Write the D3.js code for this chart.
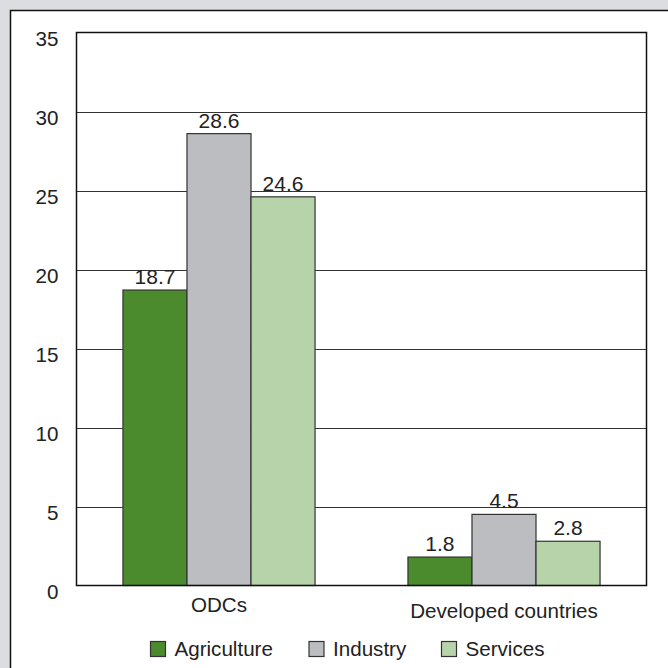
<!DOCTYPE html>
<html>
<head>
<meta charset="utf-8">
<script src="https://cdn.jsdelivr.net/npm/d3@7"></script>
<style>
  html, body { margin: 0; padding: 0; background: #dcdde0; }
  svg { display: block; }
  text { font-family: "Liberation Sans", Arial, Helvetica, sans-serif; fill: #222; }
</style>
</head>
<body>
<svg id="chart" width="668" height="668"></svg>
<script>
// Employment growth by sector, per country group
const categories = ["ODCs", "Developed countries"];
const seriesNames = ["Agriculture", "Industry", "Services"];
const agriculture = [18.7, 1.8];
const industry = [28.6, 4.5];
const services = [24.6, 2.8];
const yTicks = [0, 5, 10, 15, 20, 25, 30, 35];

const seriesValues = [agriculture, industry, services];
const colors = ["#4b8a2d", "#bcbdc0", "#b7d3aa"];
const fontSize = 20.6;

const svg = d3.select("#chart");

// white panel with a dark frame
svg.append("rect")
  .attr("x", 10.5).attr("y", 10.5)
  .attr("width", 700).attr("height", 700)
  .attr("fill", "#fff")
  .attr("stroke", "#111").attr("stroke-width", 1.5);

const plotLeft = 76.5, plotRight = 646.5, plotTop = 32.5, plotBottom = 585.5;

const y = d3.scaleLinear().domain([0, 35]).range([plotBottom, plotTop]);
const x0 = d3.scaleBand().domain(categories).range([plotLeft, plotRight])
  .paddingInner(0.326).paddingOuter(0.163);
const x1 = d3.scaleBand().domain(seriesNames).range([0, x0.bandwidth()]);

// gridlines
svg.append("g").selectAll("line")
  .data(yTicks.filter(t => t > 0 && t < 35))
  .join("line")
  .attr("x1", plotLeft).attr("x2", plotRight)
  .attr("y1", d => Math.round(y(d)) + 0.5).attr("y2", d => Math.round(y(d)) + 0.5)
  .attr("stroke", "#333").attr("stroke-width", 1);

// y axis labels
const yAxis = d3.axisLeft(y).tickValues(yTicks).tickSize(0).tickPadding(18);
const gy = svg.append("g").attr("transform", `translate(${plotLeft},0)`).call(yAxis);
gy.select(".domain").remove();
gy.selectAll("text")
  .attr("font-size", fontSize)
  .attr("font-family", "Liberation Sans, Arial, sans-serif")
  .attr("fill", "#222")
  .attr("dy", 12.5)
  .attr("y", 0);

// bars
const groups = svg.append("g").selectAll("g")
  .data(categories)
  .join("g")
  .attr("transform", d => `translate(${x0(d)},0)`);

groups.selectAll("rect")
  .data((c, ci) => seriesNames.map((s, si) => ({ s, si, v: seriesValues[si][ci] })))
  .join("rect")
  .attr("x", d => x1(d.s))
  .attr("y", d => y(d.v))
  .attr("width", x1.bandwidth())
  .attr("height", d => y(0) - y(d.v))
  .attr("fill", d => colors[d.si])
  .attr("stroke", "#333").attr("stroke-width", 1.2);

groups.selectAll("text.val")
  .data((c, ci) => seriesNames.map((s, si) => ({ s, si, v: seriesValues[si][ci] })))
  .join("text")
  .attr("class", "val")
  .attr("x", d => x1(d.s) + x1.bandwidth() / 2)
  .attr("y", d => y(d.v) - 6)
  .attr("text-anchor", "middle")
  .attr("font-size", 21)
  .text(d => d.v.toFixed(1));

// plot frame
svg.append("rect")
  .attr("x", plotLeft).attr("y", plotTop)
  .attr("width", plotRight - plotLeft).attr("height", plotBottom - plotTop)
  .attr("fill", "none").attr("stroke", "#111").attr("stroke-width", 1.5);

// category labels
const catDy = [26, 32.5];
const xAxis = d3.axisBottom(x0).tickSize(0).tickPadding(0);
const gx = svg.append("g").attr("transform", `translate(0,${plotBottom})`).call(xAxis);
gx.select(".domain").remove();
gx.selectAll("text")
  .attr("font-size", fontSize)
  .attr("font-family", "Liberation Sans, Arial, sans-serif")
  .attr("fill", "#222")
  .attr("dy", 0)
  .attr("y", (d, i) => catDy[i]);

// legend
const legendX = [150, 308.5, 441];
const legend = svg.append("g").selectAll("g")
  .data(seriesNames)
  .join("g")
  .attr("transform", (d, i) => `translate(${legendX[i]},641)`);
legend.append("rect")
  .attr("x", 0.5).attr("y", 0.5)
  .attr("width", 15).attr("height", 15)
  .attr("fill", (d, i) => colors[i])
  .attr("stroke", "#333").attr("stroke-width", 1.2);
legend.append("text")
  .attr("x", 24.5).attr("y", 15)
  .attr("font-size", fontSize)
  .text(d => d);
</script>
</body>
</html>
